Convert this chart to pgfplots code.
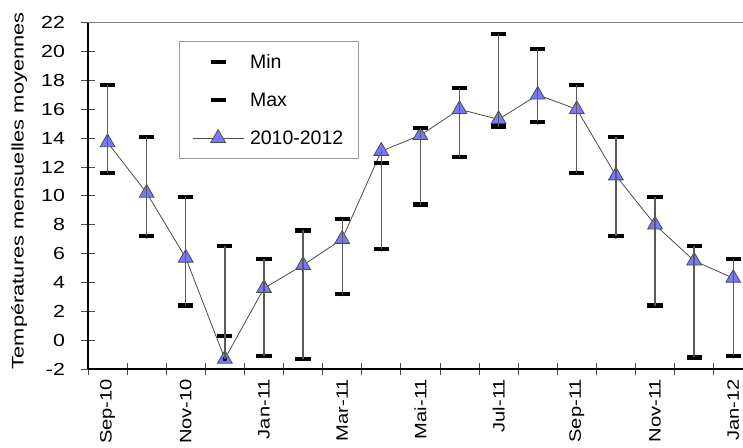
\documentclass[border=0pt]{standalone}
\usepackage{pgfplots}
\pgfplotsset{compat=1.18}
\usepackage{pgfplotstable}
\usepackage{fontspec}
\setmainfont{Liberation Sans}
\newfontfamily\wide{Liberation Sans}[FakeStretch=1.22]
\newfontfamily\wider{Liberation Sans}[FakeStretch=1.3]
\definecolor{tri}{RGB}{120,120,255}
\pgfplotstableread{
i mean min max
0 13.7 11.6 17.7
1 10.2 7.2 14.1
2 5.7 2.4 9.9
3 -1.3 0.3 6.5
4 3.6 -1.1 5.6
5 5.2 -1.3 7.6
6 7.0 3.2 8.4
7 13.1 6.3 12.3
8 14.2 9.4 14.7
9 16.0 12.7 17.5
10 15.3 14.8 21.2
11 17.0 15.1 20.2
12 16.0 11.6 17.7
13 11.4 7.2 14.1
14 8.0 2.4 9.9
15 5.5 -1.2 6.5
16 4.3 -1.1 5.6
}\data
\begin{document}
\begin{tikzpicture}
\begin{axis}[
  set layers,
  scale only axis, width=655pt, height=346.3pt,
  xmin=-0.5, xmax=16.25, ymin=-2, ymax=22,
  axis x line*=bottom, axis y line*=left,
  axis line style={black, line width=1.2pt},
  tick align=center,
  tick style={black!70, line width=0.8pt},
  major tick length=13pt, minor tick length=12.5pt,
  xtick={0,2,...,16},
  xticklabels={Sep-10,Nov-10,Jan-11,Mar-11,Mai-11,Jul-11,Sep-11,Nov-11,Jan-12},
  major x tick style={draw=none},
  minor xtick={-0.5,0.5,...,15.6},
  xticklabel style={rotate=90, anchor=east, font=\wide\fontsize{16.5}{18}\selectfont},
  ytick={-2,0,...,22},
  yticklabel style={font=\wide\fontsize{17.5}{20}\selectfont, xshift=-13pt},
  /pgf/number format/assume math mode=true,
  ylabel={Températures mensuelles moyennes},
  ylabel style={at={(axis description cs:-0.105,0.515)}, anchor=center, font=\wider\fontsize{16.8}{18}\selectfont},
  legend style={at={(axis description cs:0.1394,0.948)}, anchor=north west, draw=gray!80, line width=0.8pt,
    font=\fontsize{19.5}{21}\selectfont, inner xsep=12.5pt, inner ysep=10pt, row sep=17pt, column sep=3pt,
    nodes={inner sep=3pt}},
  legend cell align=left,
  reverse legend,
  legend image code/.code={\draw[mark repeat=2,mark phase=2] plot coordinates {(0pt,0pt) (25.5pt,0pt) (51pt,0pt)};},
]
\addplot[black!70, line width=0.8pt, mark=triangle*, mark size=8.5pt, mark options={fill=tri, draw=none, solid}]
  table[x=i, y=mean] {\data};
\addlegendentry{2010-2012}
\addplot[forget plot, on layer=axis foreground, only marks, mark=none,
  error bars/.cd, y dir=plus, y explicit, error mark=none,
  error bar style={line width=1.3pt, black!65}]
  table[x=i, y expr={min(\thisrow{min},\thisrow{mean})},
        y error plus expr={max(\thisrow{max},\thisrow{mean})-min(\thisrow{min},\thisrow{mean})}] {\data};
\addplot[on layer=axis foreground, only marks, mark=-, mark size=7.6pt, mark options={line width=4.2pt, black}]
  table[x=i, y=max] {\data};
\addlegendentry{Max}
\addplot[on layer=axis foreground, only marks, mark=-, mark size=7.6pt, mark options={line width=4.2pt, black}]
  table[x=i, y=min] {\data};
\addlegendentry{Min}
\draw[gray, line width=1.5pt] (rel axis cs:0,1) -- (rel axis cs:1,1);
\coordinate (sw) at (rel axis cs:0,0);
\coordinate (ne) at (rel axis cs:1,1);
\end{axis}
\pgfresetboundingbox
\path[use as bounding box] ([xshift=-88pt,yshift=-78pt]sw) rectangle ([yshift=22.7pt]ne);
\end{tikzpicture}
\end{document}
